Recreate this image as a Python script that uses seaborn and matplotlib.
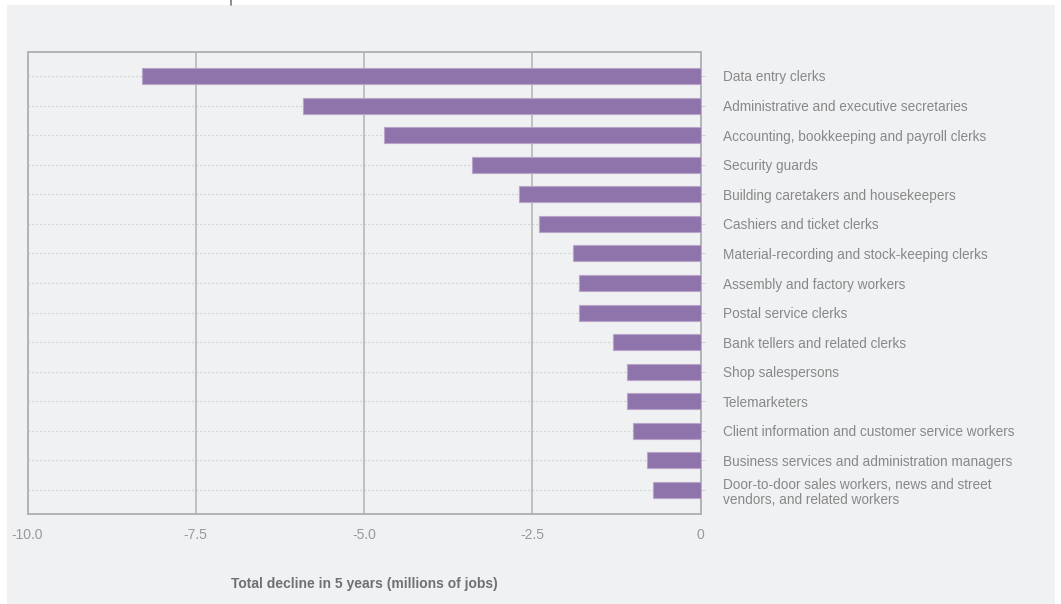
import matplotlib
matplotlib.use("Agg")
import matplotlib.pyplot as plt
from matplotlib.patches import Rectangle
from matplotlib.lines import Line2D
import seaborn as sns
import pandas as pd

occupations = [
    "Data entry clerks",
    "Administrative and executive secretaries",
    "Accounting, bookkeeping and payroll clerks",
    "Security guards",
    "Building caretakers and housekeepers",
    "Cashiers and ticket clerks",
    "Material-recording and stock-keeping clerks",
    "Assembly and factory workers",
    "Postal service clerks",
    "Bank tellers and related clerks",
    "Shop salespersons",
    "Telemarketers",
    "Client information and customer service workers",
    "Business services and administration managers",
    "Door-to-door sales workers, news and street\nvendors, and related workers",
]
decline = [-8.3, -5.9, -4.7, -3.4, -2.7, -2.4, -1.9, -1.8, -1.8, -1.3, -1.1, -1.1, -1.0, -0.8, -0.7]
x_ticks = [-10.0, -7.5, -5.0, -2.5, 0.0]
x_tick_labels = ["-10.0", "-7.5", "-5.0", "-2.5", "0"]
x_title = "Total decline in 5 years (millions of jobs)"

BG = "#f0f1f3"
BAR = "#8f73ab"
BAR_EDGE = "#b7a5c9"

sns.set_theme(style="white")
plt.rcParams["font.family"] = ["Liberation Sans", "DejaVu Sans"]

W, H = 1061, 604
fig = plt.figure(figsize=(W / 100, H / 100), dpi=100, facecolor="white")
fig.patches.append(Rectangle((7 / W, 0), (1055 - 7) / W, (H - 5) / H,
                             transform=fig.transFigure, facecolor=BG,
                             edgecolor="none", zorder=-10))
fig.lines.append(Line2D([231 / W, 231 / W], [1 - 5 / H, 1.0], transform=fig.transFigure,
                        color="#777777", linewidth=1.2))

left, right, top, bottom = 27.5, 700.6, 52, 514
ax = fig.add_axes([left / W, 1 - bottom / H, (right - left) / W, (bottom - top) / H])
ax.set_facecolor(BG)

df = pd.DataFrame({"occupation": occupations, "decline": decline})
sns.barplot(data=df, x="decline", y="occupation", orient="h", color=BAR,
            width=0.54, saturation=1, edgecolor=BAR_EDGE, linewidth=0.8, ax=ax, zorder=3)

ax.set_xlim(-10, 0)
ax.set_ylim(len(occupations) - 1 + 0.81, -0.81)

ax.set_xticks(x_ticks)
ax.set_xticklabels(x_tick_labels)
ax.tick_params(axis="x", length=0, pad=10, labelsize=10, labelcolor="#999999")

ax.yaxis.tick_right()
ax.yaxis.set_label_position("right")
ax.tick_params(axis="y", which="both", right=True, left=False, length=3, width=0.8,
               color="#d0d0d0", pad=13, labelsize=9.85, labelcolor="#888888")
for lab in ax.get_yticklabels():
    lab.set_horizontalalignment("left")
    lab.set_linespacing(1.15)

ax.set_axisbelow(True)
ax.grid(axis="y", linestyle=(0, (1, 2.2)), color="#c4c4c4", linewidth=0.9, zorder=0)
for xv in x_ticks[1:-1]:
    ax.axvline(xv, color="#b8b8b8", linewidth=1.2, zorder=1)

for s in ax.spines.values():
    s.set_visible(True)
    s.set_color("#b3b3b3")
    s.set_linewidth(1.4)

ax.set_ylabel("")
ax.set_xlabel(x_title, fontsize=10, fontweight="bold", color="#707070", labelpad=25)

fig.savefig("out.png", dpi=100, facecolor=fig.get_facecolor())
